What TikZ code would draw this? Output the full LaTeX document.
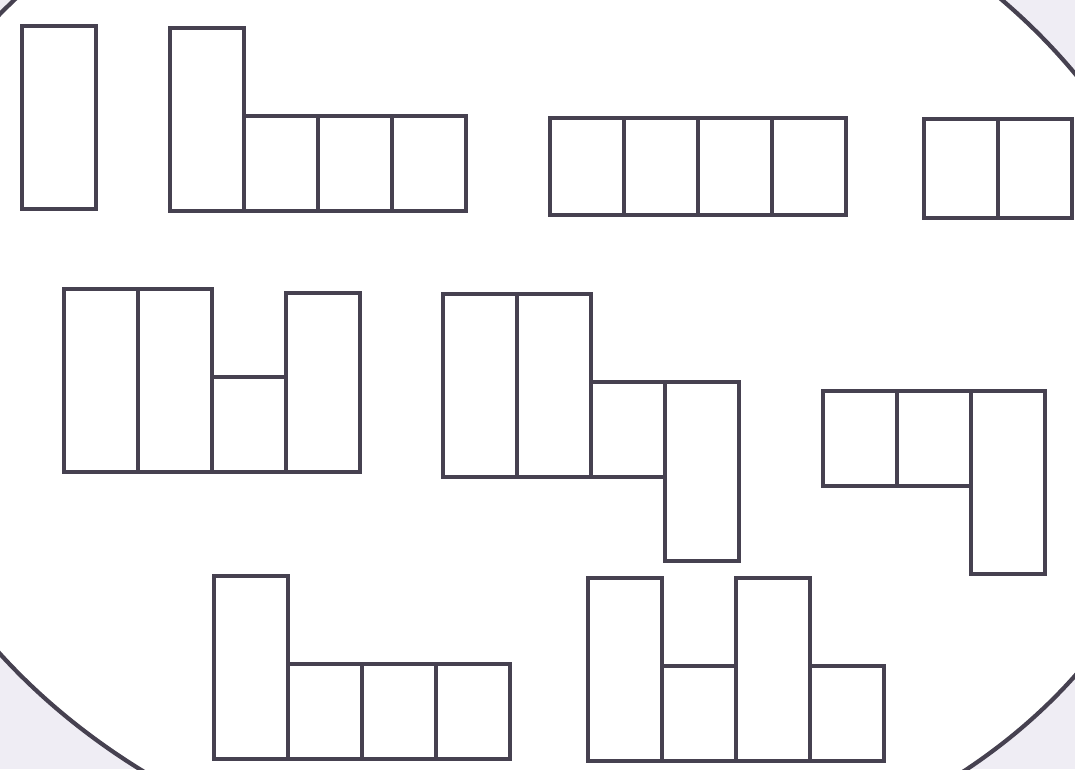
\documentclass[tikz,border=0pt]{standalone}
\usetikzlibrary{positioning}
\definecolor{inkgray}{HTML}{464150}
\definecolor{paper}{HTML}{EFEDF4}
\tikzset{
  cell/.style={draw=inkgray, line width=2.6pt, rectangle, inner sep=0pt, outer sep=0pt, minimum width=1.48cm},
  tallcell/.style={cell, minimum height=3.66cm},
  sqcell/.style={cell, minimum height=1.9cm}
}
\begin{document}
\begin{tikzpicture}

    % Background
    \useasboundingbox (0,0) rectangle (21.5,-15.38);
    \clip (0,0) rectangle (21.5,-15.38);
    \fill[paper] (0,0) rectangle (21.5,-15.38);
    \draw[draw=inkgray, fill=white, line width=2.4pt, rotate around={-6:(10.58,-7.08)}] (10.58,-7.08) ellipse [x radius=13.28, y radius=10.6];

    % Row 1
    \node[tallcell, anchor=south west] (single) at (0.44,-4.18) {};

    \node[tallcell, anchor=south west] (ell1) at (3.40,-4.22) {};
    \node[sqcell, anchor=south west] (ell2) at (ell1.south east) {};
    \node[sqcell, right=0pt of ell2] (ell3) {};
    \node[sqcell, right=0pt of ell3] (ell4) {};

    \node[sqcell, minimum height=1.94cm, anchor=south west] (four1) at (11.0,-4.30) {};
    \node[sqcell, minimum height=1.94cm, right=0pt of four1] (four2) {};
    \node[sqcell, minimum height=1.94cm, right=0pt of four2] (four3) {};
    \node[sqcell, minimum height=1.94cm, right=0pt of four3] (four4) {};

    \node[sqcell, minimum height=1.98cm, anchor=south west] (two1) at (18.48,-4.36) {};
    \node[sqcell, minimum height=1.98cm, right=0pt of two1] (two2) {};

    % Row 2
    \node[tallcell, anchor=south west] (gap1) at (1.28,-9.44) {};
    \node[tallcell, right=0pt of gap1] (gap2) {};
    \node[sqcell, anchor=south west] (gap3) at (gap2.south east) {};
    \node[tallcell, minimum height=3.58cm, anchor=south west] (gap4) at (gap3.south east) {};

    \node[tallcell, anchor=south west] (zig1) at (8.86,-9.54) {};
    \node[tallcell, right=0pt of zig1] (zig2) {};
    \node[sqcell, anchor=south west] (zig3) at (zig2.south east) {};
    \node[tallcell, minimum height=3.58cm, anchor=north west] (zig4) at (zig3.north east) {};

    \node[sqcell, anchor=north west] (hook1) at (16.46,-7.82) {};
    \node[sqcell, right=0pt of hook1] (hook2) {};
    \node[tallcell, anchor=north west] (hook3) at (hook2.north east) {};

    % Row 3
    \node[tallcell, anchor=south west] (low1) at (4.28,-15.18) {};
    \node[sqcell, anchor=south west] (low2) at (low1.south east) {};
    \node[sqcell, right=0pt of low2] (low3) {};
    \node[sqcell, right=0pt of low3] (low4) {};

    \node[tallcell, anchor=south west] (dip1) at (11.76,-15.22) {};
    \node[sqcell, anchor=south west] (dip2) at (dip1.south east) {};
    \node[tallcell, anchor=south west] (dip3) at (dip2.south east) {};
    \node[sqcell, anchor=south west] (dip4) at (dip3.south east) {};

\end{tikzpicture}
\end{document}
